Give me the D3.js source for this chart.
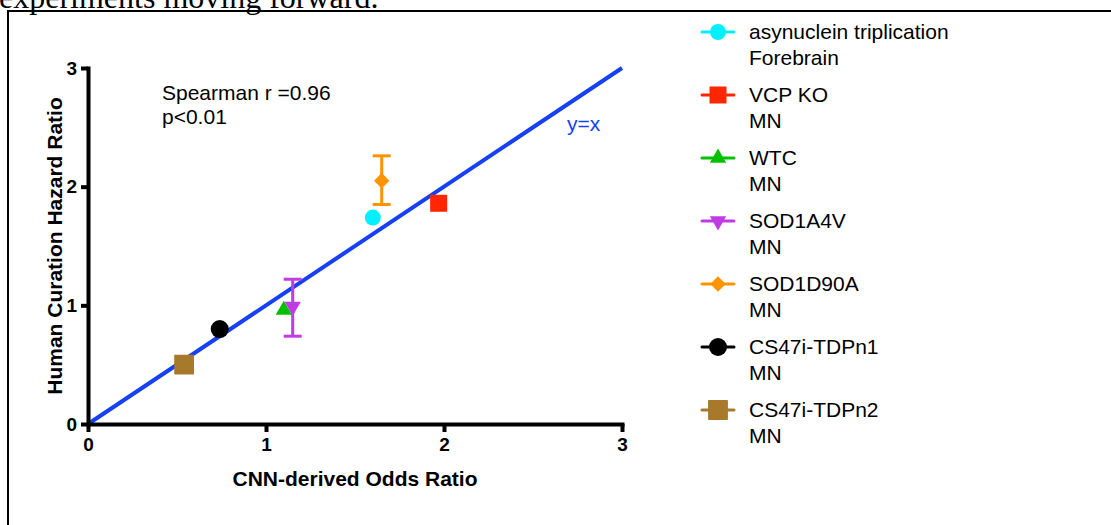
<!DOCTYPE html>
<html>
<head>
<meta charset="utf-8">
<script src="https://cdn.jsdelivr.net/npm/d3@7"></script>
<style>
  body { margin: 0; background: #fff; }
  svg text { font-family: "Liberation Sans", Arial, sans-serif; }
</style>
</head>
<body>
<div id="chart"></div>
<script>
// data
var names = ["asynuclein triplication", "VCP KO", "WTC", "SOD1A4V", "SOD1D90A", "CS47i-TDPn1", "CS47i-TDPn2"];
var cellTypes = ["Forebrain", "MN", "MN", "MN", "MN", "MN", "MN"];
var cnnOdds = [1.60, 1.97, 1.10, 1.15, 1.65, 0.74, 0.54];
var humanHazard = [1.74, 1.86, 0.96, 0.99, 2.05, 0.80, 0.50];
var errLow = [null, null, null, 0.74, 1.85, null, null];
var errHigh = [null, null, null, 1.22, 2.26, null, null];
var colors = ["#00f0ff", "#ff2600", "#00c000", "#c03ae6", "#ff9300", "#000000", "#a67a2a"];
var shapes = ["circle", "square", "triangle", "triangleDown", "diamond", "circleBig", "squareRound"];
var xTicks = [0, 1, 2, 3];
var yTicks = [0, 1, 2, 3];

var width = 1111, height = 525;
var svg = d3.select("#chart")
    .append("svg")
    .attr("width", width)
    .attr("height", height);

// clipped paragraph text and frame from the page
svg.append("text")
    .attr("x", -1)
    .attr("y", 8)
    .style("font-family", "'Liberation Serif', 'Times New Roman', serif")
    .style("font-size", "32px")
    .text("experiments moving forward.");

svg.append("line").attr("x1", 7).attr("x2", width).attr("y1", 11).attr("y2", 11)
    .style("stroke", "#000").style("stroke-width", 2);
svg.append("line").attr("x1", 8).attr("x2", 8).attr("y1", 10).attr("y2", height)
    .style("stroke", "#000").style("stroke-width", 2);

var x = d3.scaleLinear().domain([0, 3]).range([88, 622]);
var y = d3.scaleLinear().domain([0, 3]).range([424, 68]);

function symbolPath(shape) {
    var sym;
    if (shape == "circle") sym = d3.symbol().type(d3.symbolCircle).size(200);
    else if (shape == "circleBig") sym = d3.symbol().type(d3.symbolCircle).size(255);
    else if (shape == "square") sym = d3.symbol().type(d3.symbolSquare).size(289);
    else if (shape == "squareRound") sym = d3.symbol().type(d3.symbolSquare).size(335);
    else if (shape == "diamond") sym = d3.symbol().type(d3.symbolSquare).size(118);
    else sym = d3.symbol().type(d3.symbolTriangle).size(115);
    return sym();
}
function symbolRotate(shape) {
    if (shape == "diamond") return 45;
    if (shape == "triangleDown") return 180;
    return 0;
}

// y = x line
svg.append("line")
    .attr("x1", x(0)).attr("y1", y(0))
    .attr("x2", x(3)).attr("y2", y(3))
    .style("stroke", "#1540f5")
    .style("stroke-width", 4);

svg.append("text")
    .attr("x", 567)
    .attr("y", 131)
    .style("font-size", "21px")
    .style("fill", "#1540f5")
    .text("y=x");

// axes
var xAxis = svg.append("g")
    .attr("transform", "translate(0," + y(0) + ")")
    .call(d3.axisBottom(x).tickValues(xTicks).tickFormat(d3.format("d")).tickSize(8).tickSizeOuter(0).tickPadding(6));
var yAxis = svg.append("g")
    .attr("transform", "translate(" + x(0) + ",0)")
    .call(d3.axisLeft(y).tickValues(yTicks).tickFormat(d3.format("d")).tickSize(7).tickSizeOuter(0).tickPadding(4));

[xAxis, yAxis].forEach(function (g) {
    g.attr("font-family", "'Liberation Sans', Arial, sans-serif");
    g.select(".domain").style("stroke", "#000").style("stroke-width", 4).style("stroke-linecap", "square");
    g.selectAll(".tick line").style("stroke", "#000").style("stroke-width", 4);
    g.selectAll(".tick text")
        .attr("style", "font-size:19px;font-weight:bold;fill:#000");
});

svg.append("text")
    .attr("x", 355)
    .attr("y", 486)
    .attr("text-anchor", "middle")
    .style("font-size", "21px")
    .style("font-weight", "bold")
    .text("CNN-derived Odds Ratio");

svg.append("text")
    .attr("transform", "translate(62,246) rotate(-90)")
    .attr("text-anchor", "middle")
    .style("font-size", "21px")
    .style("font-weight", "bold")
    .text("Human Curation Hazard Ratio");

svg.append("text")
    .attr("x", 162)
    .attr("y", 100)
    .style("font-size", "21px")
    .text("Spearman r =0.96");
svg.append("text")
    .attr("x", 162)
    .attr("y", 124)
    .style("font-size", "21px")
    .text("p<0.01");

// error bars
var idx = d3.range(names.length);
var errGroup = svg.append("g");
idx.filter(function (i) { return errLow[i] != null; }).forEach(function (i) {
    var cx = x(cnnOdds[i]);
    errGroup.append("line")
        .attr("x1", cx).attr("x2", cx)
        .attr("y1", y(errLow[i])).attr("y2", y(errHigh[i]))
        .style("stroke", colors[i]).style("stroke-width", 3);
    [errLow[i], errHigh[i]].forEach(function (v) {
        errGroup.append("line")
            .attr("x1", cx - 9).attr("x2", cx + 9)
            .attr("y1", y(v)).attr("y2", y(v))
            .style("stroke", colors[i]).style("stroke-width", 3);
    });
});

// points
svg.append("g")
    .selectAll("path")
    .data(idx)
    .enter()
    .append("path")
    .attr("d", function (i) { return symbolPath(shapes[i]); })
    .attr("transform", function (i) {
        return "translate(" + x(cnnOdds[i]) + "," + y(humanHazard[i]) + ") rotate(" + symbolRotate(shapes[i]) + ")";
    })
    .style("fill", function (i) { return colors[i]; })
    .style("stroke", function (i) { return shapes[i] == "squareRound" ? colors[i] : "none"; })
    .style("stroke-width", 1.5)
    .style("stroke-linejoin", "round");

// legend
var legend = svg.append("g");
var items = legend.selectAll("g")
    .data(idx)
    .enter()
    .append("g")
    .attr("transform", function (i) { return "translate(0," + (32 + i * 63) + ")"; });

items.append("line")
    .attr("x1", 702).attr("x2", 734)
    .attr("y1", 0).attr("y2", 0)
    .style("stroke", function (i) { return colors[i]; })
    .style("stroke-width", 3)
    .style("stroke-linecap", "round");

items.append("path")
    .attr("d", function (i) { return symbolPath(shapes[i]); })
    .attr("transform", function (i) { return "translate(718,0) rotate(" + symbolRotate(shapes[i]) + ")"; })
    .style("fill", function (i) { return colors[i]; })
    .style("stroke", function (i) { return shapes[i] == "squareRound" ? colors[i] : "none"; })
    .style("stroke-width", 1.5)
    .style("stroke-linejoin", "round");

items.append("text")
    .attr("x", 749)
    .attr("y", 7)
    .style("font-size", "21px")
    .text(function (i) { return names[i]; });
items.append("text")
    .attr("x", 749)
    .attr("y", 33)
    .style("font-size", "21px")
    .text(function (i) { return cellTypes[i]; });
</script>
</body>
</html>
